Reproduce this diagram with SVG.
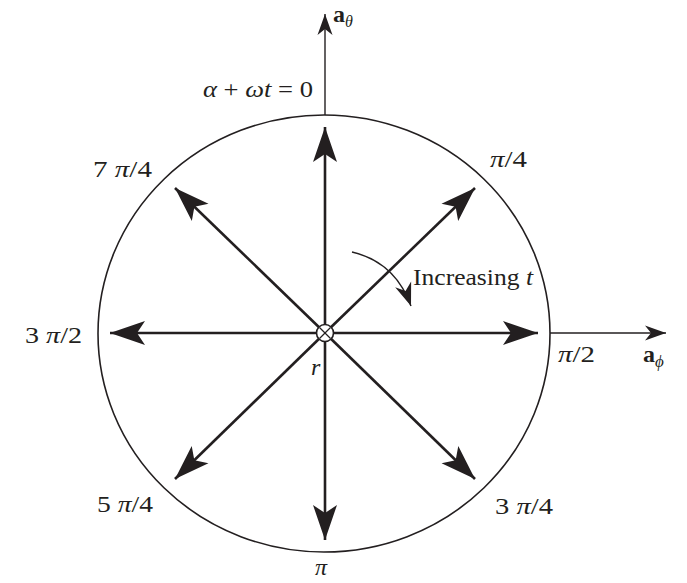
<svg xmlns="http://www.w3.org/2000/svg" width="687" height="583" viewBox="0 0 687 583">
<style>
text{font-family:"Liberation Serif","Times New Roman",serif;font-size:24px;fill:#231f20}
.i{font-style:italic}
.b{font-weight:bold}
.vec{stroke:#231f20;stroke-width:2.6;fill:none}
.ax{stroke:#231f20;stroke-width:1.4;fill:none}
</style>
<defs>
<marker id="big" markerUnits="userSpaceOnUse" viewBox="-36 -14 38 28" refX="0" refY="0" markerWidth="38" markerHeight="28" orient="auto">
<path d="M0,0 L-35,-12 L-27,0 L-35,12 Z" fill="#231f20"/>
</marker>
<marker id="small" markerUnits="userSpaceOnUse" viewBox="-22 -9 24 18" refX="0" refY="0" markerWidth="24" markerHeight="18" orient="auto">
<path d="M0,0 L-21,-7.5 L-15,0 L-21,7.5 Z" fill="#231f20"/>
</marker>
<marker id="curv" markerUnits="userSpaceOnUse" viewBox="-24 -10 26 20" refX="0" refY="0" markerWidth="26" markerHeight="20" orient="auto">
<path d="M0,0 L-23,-8.5 L-16,0 L-23,8.5 Z" fill="#231f20"/>
</marker>
</defs>
<g id="circle"><ellipse cx="324" cy="333.5" rx="226" ry="218.5" fill="none" stroke="#231f20" stroke-width="1.6"/></g>
<g id="connectors">
<line class="ax" x1="325" y1="115" x2="325" y2="14" marker-end="url(#small)"/>
<line class="ax" x1="550" y1="333" x2="666" y2="333" marker-end="url(#small)"/>
<line class="vec" x1="325" y1="333" x2="325" y2="127" marker-end="url(#big)"/>
<line class="vec" x1="325" y1="333" x2="325" y2="540" marker-end="url(#big)"/>
<line class="vec" x1="325" y1="333" x2="538" y2="333" marker-end="url(#big)"/>
<line class="vec" x1="325" y1="333" x2="110" y2="333" marker-end="url(#big)"/>
<line class="vec" x1="325" y1="333" x2="475" y2="188" marker-end="url(#big)"/>
<line class="vec" x1="325" y1="333" x2="175" y2="188" marker-end="url(#big)"/>
<line class="vec" x1="325" y1="333" x2="175" y2="479" marker-end="url(#big)"/>
<line class="vec" x1="325" y1="333" x2="475" y2="479" marker-end="url(#big)"/>
<path class="ax" d="M352,252 Q395,262 411,306" stroke-width="1.6" marker-end="url(#curv)"/>
</g>
<g id="center">
<circle cx="325" cy="333" r="8.5" fill="#fff" stroke="#231f20" stroke-width="1.6"/>
<line x1="319.5" y1="327.5" x2="330.5" y2="338.5" stroke="#231f20" stroke-width="1.3"/>
<line x1="330.5" y1="327.5" x2="319.5" y2="338.5" stroke="#231f20" stroke-width="1.3"/>
</g>
<g id="labels">
<text x="333" y="22" font-size="22"><tspan class="b">a</tspan><tspan class="i" font-size="16" dy="5">θ</tspan></text>
<text x="203" y="97" textLength="110" lengthAdjust="spacingAndGlyphs"><tspan class="i">α</tspan> + <tspan class="i">ωt</tspan> = 0</text>
<text x="93" y="177" textLength="59" lengthAdjust="spacingAndGlyphs">7 <tspan class="i">π</tspan>/4</text>
<text x="490" y="167" textLength="37" lengthAdjust="spacingAndGlyphs"><tspan class="i">π</tspan>/4</text>
<text x="25" y="343" textLength="57" lengthAdjust="spacingAndGlyphs">3 <tspan class="i">π</tspan>/2</text>
<text x="558" y="362" textLength="37" lengthAdjust="spacingAndGlyphs"><tspan class="i">π</tspan>/2</text>
<text x="643" y="362"><tspan class="b">a</tspan><tspan class="i" font-size="17" dy="5">ϕ</tspan></text>
<text class="i" x="311" y="375">r</text>
<text x="97" y="512" textLength="56" lengthAdjust="spacingAndGlyphs">5 <tspan class="i">π</tspan>/4</text>
<text x="495" y="514" textLength="58" lengthAdjust="spacingAndGlyphs">3 <tspan class="i">π</tspan>/4</text>
<text class="i" x="315" y="575">π</text>
<text x="413" y="285" textLength="120" lengthAdjust="spacingAndGlyphs">Increasing <tspan class="i">t</tspan></text>
</g>
</svg>
